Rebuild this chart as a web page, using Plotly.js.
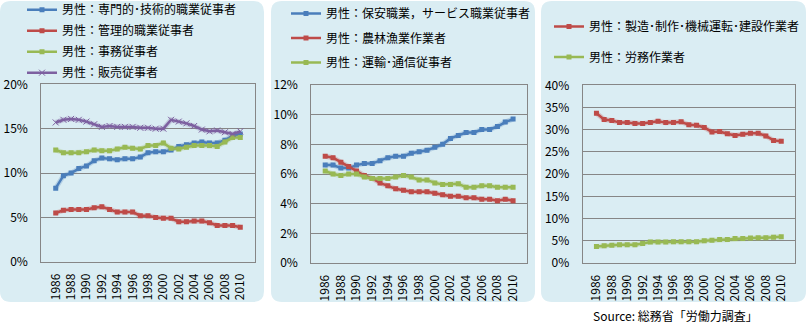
<!DOCTYPE html>
<html>
<head>
<meta charset="utf-8">
<script src="https://cdn.plot.ly/plotly-3.0.1.min.js"></script>
<style>html,body{margin:0;padding:0;background:#fff;}#chart{width:806px;height:328px;}</style>
</head>
<body>
<div id="chart"></div>
<script>
// ---- data ----
const years = ['1986','1987','1988','1989','1990','1991','1992','1993','1994','1995','1996','1997','1998','1999','2000','2001','2002','2003','2004','2005','2006','2007','2008','2009','2010'];
const yearTicks = ['1986','1988','1990','1992','1994','1996','1998','2000','2002','2004','2006','2008','2010'];

// panel 1
const name_senmon = '男性：専門的･技術的職業従事者';
const senmon = [8.3,9.7,10.0,10.5,10.8,11.4,11.7,11.6,11.5,11.6,11.6,11.8,12.3,12.4,12.4,12.6,13.0,13.2,13.4,13.5,13.4,13.4,13.7,14.2,14.4];
const name_kanri = '男性：管理的職業従事者';
const kanri = [5.5,5.8,5.9,5.9,5.9,6.1,6.2,5.9,5.6,5.6,5.6,5.2,5.2,5.0,4.9,4.9,4.5,4.5,4.6,4.6,4.4,4.1,4.1,4.1,3.9];
const name_jimu = '男性：事務従事者';
const jimu = [12.6,12.3,12.3,12.3,12.4,12.6,12.5,12.5,12.7,12.9,12.8,12.7,13.1,13.1,13.4,12.8,12.7,12.9,13.1,13.1,13.1,13.0,13.5,14.0,14.0];
const name_hanbai = '男性：販売従事者';
const hanbai = [15.7,16.0,16.1,16.0,15.8,15.5,15.2,15.3,15.2,15.2,15.2,15.1,15.1,15.0,15.0,16.0,15.8,15.6,15.3,14.9,14.7,14.8,14.6,14.4,14.7];

// panel 2
const name_service = '男性：保安職業，サービス職業従事者';
const service = [6.6,6.6,6.4,6.4,6.6,6.7,6.7,6.9,7.1,7.2,7.2,7.4,7.5,7.6,7.8,8.0,8.4,8.6,8.8,8.8,9.0,9.0,9.2,9.5,9.7];
const name_nourin = '男性：農林漁業作業者';
const nourin = [7.2,7.1,6.8,6.5,6.2,5.9,5.7,5.4,5.2,5.0,4.9,4.8,4.8,4.8,4.7,4.6,4.5,4.5,4.4,4.4,4.3,4.3,4.2,4.3,4.2];
const name_unyu = '男性：運輸･通信従事者';
const unyu = [6.2,6.0,5.9,6.0,6.0,5.8,5.7,5.7,5.7,5.8,5.9,5.8,5.6,5.6,5.4,5.3,5.3,5.35,5.1,5.1,5.2,5.2,5.1,5.1,5.1];

// panel 3
const name_seizou = '男性：製造･制作･機械運転･建設作業者';
const seizou = [33.7,32.3,32.1,31.6,31.6,31.4,31.4,31.6,31.9,31.6,31.6,31.8,31.1,31.0,30.5,29.5,29.6,29.1,28.7,29.0,29.2,29.2,28.6,27.6,27.4];
const name_roumu = '男性：労務作業者';
const roumu = [3.7,3.9,4.0,4.1,4.1,4.1,4.4,4.7,4.7,4.7,4.8,4.8,4.8,4.8,5.0,5.1,5.3,5.3,5.5,5.5,5.6,5.7,5.7,5.8,5.9];

const sourceText = 'Source: 総務省「労働力調査」';

// ---- styling ----
const W = 806, H = 328;
const FONT = '"Noto Sans CJK JP", "Noto Sans", sans-serif';
const BLUE = '#4a7ebb', RED = '#be4b48', GREEN = '#98b954', PURPLE = '#7d60a0';
const px = v => v / W;
const py = v => 1 - v / H;

function series(xa, ya, legend, name, y, color, symbol) {
  const glow = {
    type: 'scatter', mode: 'lines', x: years, y: y, xaxis: xa, yaxis: ya,
    line: {color: color, width: 5}, opacity: 0.25, showlegend: false,
    hoverinfo: 'skip', legend: legend, legendgroup: name
  };
  const main = {
    type: 'scatter', mode: 'lines+markers', x: years, y: y, xaxis: xa, yaxis: ya,
    name: name, legend: legend, legendgroup: name,
    line: {color: color, width: 2.5},
    marker: symbol === 'x'
      ? {symbol: 'x-thin', size: 6, line: {color: color, width: 1}, color: color}
      : {symbol: 'square', size: 5, color: color}
  };
  return [glow, main];
}

const traces = [].concat(
  series('x', 'y', 'legend', name_senmon, senmon, BLUE, 'sq'),
  series('x', 'y', 'legend', name_kanri, kanri, RED, 'sq'),
  series('x', 'y', 'legend', name_jimu, jimu, GREEN, 'sq'),
  series('x', 'y', 'legend', name_hanbai, hanbai, PURPLE, 'x'),
  series('x2', 'y2', 'legend2', name_service, service, BLUE, 'sq'),
  series('x2', 'y2', 'legend2', name_nourin, nourin, RED, 'sq'),
  series('x2', 'y2', 'legend2', name_unyu, unyu, GREEN, 'sq'),
  series('x3', 'y3', 'legend3', name_seizou, seizou, RED, 'sq'),
  series('x3', 'y3', 'legend3', name_roumu, roumu, GREEN, 'sq')
);

function xaxis(l, r, anchor) {
  return {
    domain: [px(l), px(r)], anchor: anchor, type: 'category',
    categoryorder: 'array', categoryarray: years,
    tickmode: 'array', tickvals: yearTicks, ticktext: yearTicks,
    tickangle: -90, ticks: '', showgrid: false, zeroline: false,
    showline: true, mirror: true, linecolor: '#868686', linewidth: 1,
    tickfont: {family: FONT, size: 12, color: '#000'},
    ticklabelstandoff: 6, automargin: false, fixedrange: true
  };
}
function yaxis(t, b, anchor, max, dtick) {
  return {
    domain: [py(b), py(t)], anchor: anchor, range: [0, max], dtick: dtick, tick0: 0,
    ticksuffix: '%', ticks: '', showgrid: true, gridcolor: '#868686', gridwidth: 1,
    zeroline: false, showline: true, mirror: true, linecolor: '#868686', linewidth: 1,
    tickfont: {family: FONT, size: 12, color: '#000'},
    ticklabelstandoff: 10, automargin: false, fixedrange: true
  };
}

function roundRect(x0, y0, x1, y1, r) {
  const a = px(x0), b = px(x1), c = py(y0), d = py(y1);
  const rx = px(r), ry = r / H;
  return 'M' + (a + rx) + ',' + c +
    ' L' + (b - rx) + ',' + c + ' Q' + b + ',' + c + ' ' + b + ',' + (c - ry) +
    ' L' + b + ',' + (d + ry) + ' Q' + b + ',' + d + ' ' + (b - rx) + ',' + d +
    ' L' + (a + rx) + ',' + d + ' Q' + a + ',' + d + ' ' + a + ',' + (d + ry) +
    ' L' + a + ',' + (c - ry) + ' Q' + a + ',' + c + ' ' + (a + rx) + ',' + c + ' Z';
}
const panelShape = (x0, x1) => ({
  type: 'path', xref: 'paper', yref: 'paper', layer: 'below',
  path: roundRect(x0, 1, x1, 302, 11),
  fillcolor: '#daedf3', line: {width: 0}
});

function legendCfg(x, top, gap) {
  return {
    x: px(x), y: py(top), xanchor: 'left', yanchor: 'top',
    bgcolor: 'rgba(0,0,0,0)', borderwidth: 0, itemwidth: 30,
    traceorder: 'grouped', tracegroupgap: gap,
    font: {family: FONT, size: 12, color: '#000'}
  };
}

const layout = {
  width: W, height: H,
  margin: {l: 0, r: 0, t: 0, b: 0, pad: 0, autoexpand: false},
  paper_bgcolor: '#ffffff', plot_bgcolor: '#ffffff',
  font: {family: FONT, size: 12, color: '#000'},
  showlegend: true,
  xaxis: xaxis(41.3, 254.7, 'y'),
  yaxis: yaxis(84.3, 261.8, 'x', 20, 5),
  xaxis2: xaxis(311.3, 527, 'y2'),
  yaxis2: yaxis(85, 263, 'x2', 12, 2),
  xaxis3: xaxis(582.7, 795, 'y3'),
  yaxis3: yaxis(85.3, 263, 'x3', 40, 5),
  legend: legendCfg(22, -4.8, 2),
  legend2: legendCfg(286, -1, 5.5),
  legend3: legendCfg(549, 12, 11.5),
  shapes: [panelShape(0, 264), panelShape(271, 535), panelShape(541, 806)],
  annotations: [{
    text: sourceText, xref: 'paper', yref: 'paper', x: px(675), y: py(315),
    xanchor: 'center', yanchor: 'middle', showarrow: false,
    font: {family: FONT, size: 12, color: '#000'}
  }]
};

Plotly.newPlot('chart', traces, layout, {displayModeBar: false, staticPlot: true});
</script>
</body>
</html>
